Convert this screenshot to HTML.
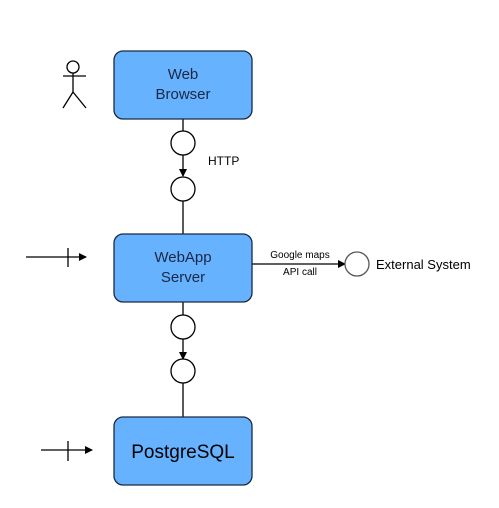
<!DOCTYPE html>
<html><head><style>
html,body{margin:0;padding:0;background:#fff;}
svg{display:block;font-family:"Liberation Sans",Arial,sans-serif;}
</style></head><body>
<svg width="499" height="508" viewBox="0 0 499 508" xmlns="http://www.w3.org/2000/svg">
<defs><marker id="a" markerWidth="8" markerHeight="8" refX="7" refY="4" orient="auto" markerUnits="userSpaceOnUse"><path d="M0,0 L8,4 L0,8 z" fill="#000"/></marker></defs>
<g stroke="#000" stroke-width="1.3" fill="none">
<circle cx="73" cy="67" r="6"/>
<line x1="63" y1="76" x2="86" y2="76"/>
<line x1="73" y1="73" x2="73" y2="92"/>
<line x1="73" y1="92" x2="63" y2="108"/>
<line x1="73" y1="92" x2="86" y2="108"/>
<line x1="183" y1="119" x2="183" y2="131"/>
<line x1="183" y1="155" x2="183" y2="176" marker-end="url(#a)"/>
<line x1="183" y1="201" x2="183" y2="234"/>
<line x1="183" y1="302" x2="183" y2="315"/>
<line x1="183" y1="339" x2="183" y2="359" marker-end="url(#a)"/>
<line x1="183" y1="383" x2="183" y2="417"/>
<line x1="252" y1="264" x2="345" y2="264" marker-end="url(#a)"/>
<line x1="26" y1="257" x2="86" y2="257" marker-end="url(#a)"/>
<line x1="68" y1="248" x2="68" y2="267"/>
<line x1="41" y1="450" x2="92" y2="450" marker-end="url(#a)"/>
<line x1="68" y1="441" x2="68" y2="461"/>
</g>
<g fill="#fff" stroke="#000" stroke-width="1.3">
<circle cx="183" cy="143" r="12"/>
<circle cx="183" cy="189" r="12"/>
<circle cx="183" cy="327" r="12"/>
<circle cx="183" cy="371" r="12"/>
<circle cx="357" cy="264" r="12" stroke="#555"/>
</g>
<g fill="#66b2ff" stroke="#1a2a40" stroke-width="1.3">
<rect x="114" y="51" width="138" height="68" rx="9"/>
<rect x="114" y="234" width="138" height="68" rx="9"/>
<rect x="114" y="417" width="138" height="68" rx="9"/>
</g>
<g text-anchor="middle" fill="#1a2845" font-size="15">
<text x="183" y="79">Web</text>
<text x="183" y="99">Browser</text>
<text x="183" y="262">WebApp</text>
<text x="183" y="282">Server</text>
</g>
<text x="183" y="458" text-anchor="middle" font-size="19" fill="#000">PostgreSQL</text>
<text x="208" y="165" font-size="12" fill="#000">HTTP</text>
<text x="300" y="258" text-anchor="middle" font-size="10" fill="#000">Google maps</text>
<text x="300" y="275" text-anchor="middle" font-size="10" fill="#000">API call</text>
<text x="376" y="269" font-size="13" fill="#000">External System</text>
</svg>
</body></html>
